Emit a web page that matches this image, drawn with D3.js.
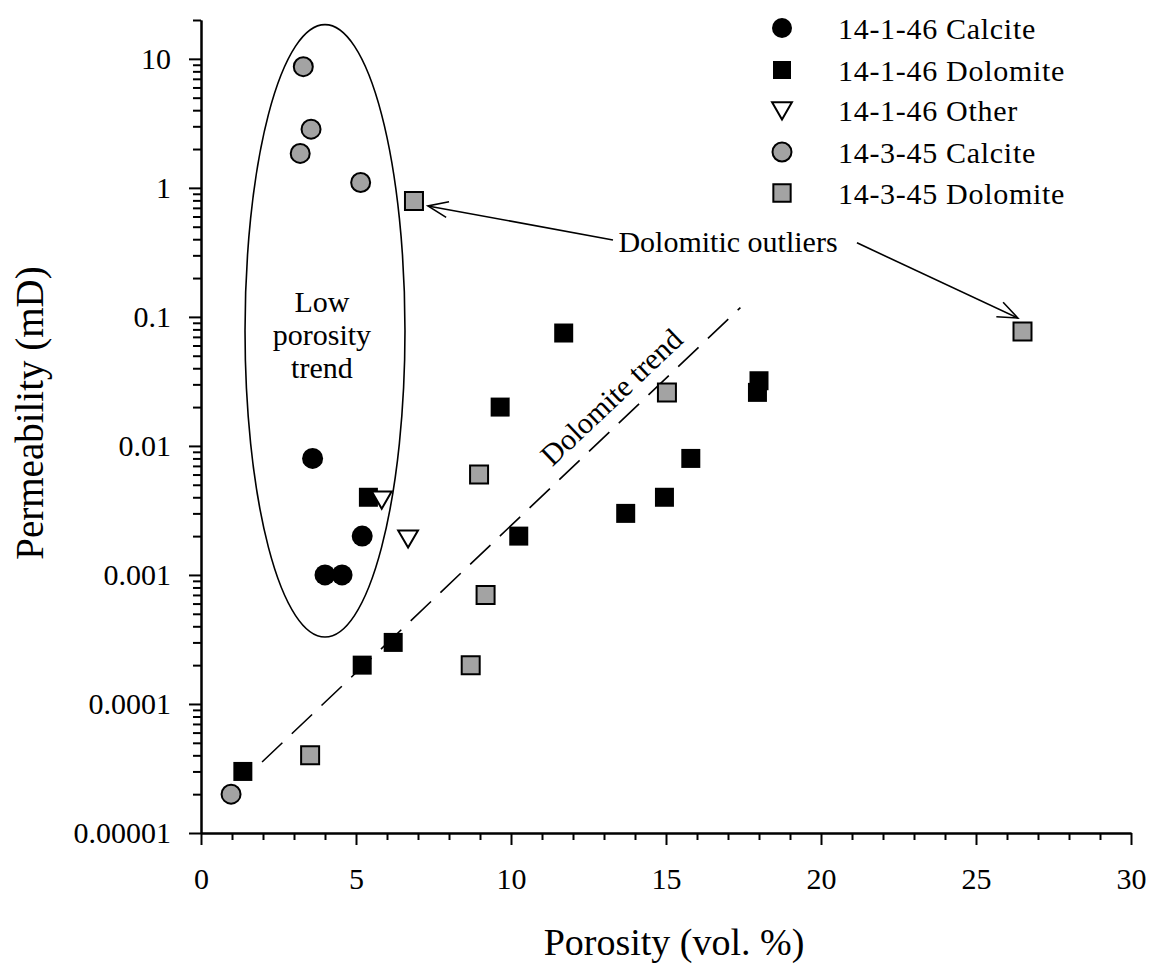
<!doctype html>
<html>
<head>
    <style>
        body { margin: 0; background: #fff; }
        text { font-family: "Liberation Serif", "Times New Roman", serif; fill: #000; }
        .axis path, .axis line { stroke: #000; stroke-width: 2px; }
        .axis text { font-family: "Liberation Serif", "Times New Roman", serif; font-size: 30px; }
    </style>
    <script src="https://d3js.org/d3.v7.min.js"></script>
</head>
<body>
<svg width="1150" height="968"></svg>
<script>

    // porosity (vol. %) and permeability (mD) per series
    var calcite1X = [3.6, 5.2, 4.0, 4.55],
        calcite1Y = [0.008, 0.002, 0.001, 0.001];
    var dolomite1X = [1.35, 5.2, 6.2, 5.4, 10.25, 9.65, 11.7, 13.7, 14.95, 15.8, 17.95, 18.0],
        dolomite1Y = [0.00003, 0.0002, 0.0003, 0.004, 0.002, 0.02, 0.075, 0.003, 0.004, 0.008, 0.026, 0.032];
    var other1X = [5.83, 6.68],
        other1Y = [0.004, 0.002];
    var calcite3X = [3.3, 3.55, 3.2, 5.15, 0.97],
        calcite3Y = [8.7, 2.85, 1.85, 1.1, 0.00002];
    var dolomite3X = [6.87, 26.5, 3.52, 8.97, 9.18, 8.7, 15.03],
        dolomite3Y = [0.79, 0.077, 0.00004, 0.006, 0.0007, 0.0002, 0.026];

    var seriesNames = ["14-1-46 Calcite", "14-1-46 Dolomite", "14-1-46 Other", "14-3-45 Calcite", "14-3-45 Dolomite"];

    var xTicks = [0, 5, 10, 15, 20, 25, 30];
    var yTicks = [0.00001, 0.0001, 0.001, 0.01, 0.1, 1, 10];
    var yTickLabels = ["0.00001", "0.0001", "0.001", "0.01", "0.1", "1", "10"];

    // annotations, in data units
    var trendLine = [[1.97, 0.0000355], [17.4, 0.118]];
    var ellipseX = [1.42, 6.58], ellipseY = [0.00033, 18.4];
    var outlierArrows = [[[13.29, 0.395], [7.32, 0.724]], [[21.16, 0.375], [26.35, 0.098]]];

    var svg = d3.select("svg");

    var x = d3.scaleLinear().domain([0, 30]).range([201, 1131]),
        y = d3.scaleLog().domain([0.00001, 20]).range([833, 20]);

    // minor ticks
    var xMinor = d3.range(0, 31).filter(function(d) { return d % 5 !== 0; });
    var yMinor = [];
    yTicks.forEach(function(t) {
        for (var k = 2; k <= 9; k++) {
            if (t * k <= 20.0001) yMinor.push(t * k);
        }
    });

    svg.append("g").attr("class", "axis")
       .attr("transform", "translate(0,833)")
       .call(d3.axisBottom(x).tickValues(xMinor).tickSize(7).tickSizeOuter(0).tickFormat(""));
    svg.append("g").attr("class", "axis")
       .attr("transform", "translate(0,833)")
       .call(d3.axisBottom(x).tickValues(xTicks).tickSize(12).tickSizeOuter(0).tickPadding(23).tickFormat(d3.format("d")));

    svg.append("g").attr("class", "axis")
       .attr("transform", "translate(201,0)")
       .call(d3.axisLeft(y).tickValues(yMinor).tickSize(8).tickSizeOuter(0).tickFormat(""));
    svg.append("g").attr("class", "axis")
       .attr("transform", "translate(201,0)")
       .call(d3.axisLeft(y).tickValues(yTicks).tickSize(12).tickSizeOuter(0).tickPadding(18)
            .tickFormat(function(d, i) { return yTickLabels[i]; }));

    svg.selectAll(".axis text").attr("fill", "#000");

    // axis titles
    svg.append("text")
       .attr("x", 674).attr("y", 955)
       .attr("text-anchor", "middle")
       .attr("font-size", "38px")
       .text("Porosity (vol. %)");

    svg.append("text")
       .attr("transform", "translate(43,413) rotate(-90)")
       .attr("text-anchor", "middle")
       .attr("font-size", "39px")
       .text("Permeability (mD)");

    // low porosity ellipse
    var ex0 = x(ellipseX[0]), ex1 = x(ellipseX[1]),
        ey0 = y(ellipseY[0]), ey1 = y(ellipseY[1]);
    svg.append("ellipse")
       .attr("cx", (ex0 + ex1) / 2).attr("cy", (ey0 + ey1) / 2)
       .attr("rx", (ex1 - ex0) / 2).attr("ry", (ey0 - ey1) / 2)
       .attr("fill", "none").attr("stroke", "#000").attr("stroke-width", 1.6);

    var lowText = svg.append("text")
       .attr("text-anchor", "middle")
       .attr("font-size", "30px");
    ["Low", "porosity", "trend"].forEach(function(s, i) {
        lowText.append("tspan")
           .attr("x", x(3.9)).attr("y", y(0.109) + i * 33)
           .text(s);
    });

    // dolomite trend
    svg.append("line")
       .attr("x1", x(trendLine[0][0])).attr("y1", y(trendLine[0][1]))
       .attr("x2", x(trendLine[1][0])).attr("y2", y(trendLine[1][1]))
       .attr("stroke", "#000").attr("stroke-width", 1.6)
       .attr("stroke-dasharray", "28,13");

    var ang = Math.atan2(y(trendLine[1][1]) - y(trendLine[0][1]), x(trendLine[1][0]) - x(trendLine[0][0])) * 180 / Math.PI;
    svg.append("text")
       .attr("transform", "translate(" + x(13.23) + "," + y(0.024) + ") rotate(" + ang + ")")
       .attr("text-anchor", "middle")
       .attr("dy", "0.35em")
       .attr("font-size", "30px")
       .text("Dolomite trend");

    // outlier arrows
    svg.append("defs").append("marker")
       .attr("id", "head")
       .attr("markerUnits", "userSpaceOnUse")
       .attr("markerWidth", 30).attr("markerHeight", 30)
       .attr("refX", 22).attr("refY", 10)
       .attr("orient", "auto")
       .append("path")
       .attr("d", "M2,2 L22,10 L2,18")
       .attr("fill", "none").attr("stroke", "#000").attr("stroke-width", 1.6);

    outlierArrows.forEach(function(a) {
        svg.append("line")
           .attr("x1", x(a[0][0])).attr("y1", y(a[0][1]))
           .attr("x2", x(a[1][0])).attr("y2", y(a[1][1]))
           .attr("stroke", "#000").attr("stroke-width", 1.6)
           .attr("marker-end", "url(#head)");
    });

    svg.append("text")
       .attr("x", x(17.0)).attr("y", y(0.319))
       .attr("text-anchor", "middle")
       .attr("font-size", "30px")
       .text("Dolomitic outliers");

    // points
    function pts(xs, ys) { return xs.map(function(d, i) { return [d, ys[i]]; }); }

    var square = d3.symbol().type(d3.symbolSquare).size(361),
        tri = d3.symbol().type(d3.symbolTriangle).size(170);

    svg.append("g").selectAll("circle")
       .data(pts(calcite3X, calcite3Y)).enter().append("circle")
       .attr("cx", function(d) { return x(d[0]); })
       .attr("cy", function(d) { return y(d[1]); })
       .attr("r", 9.5)
       .attr("fill", "#a3a3a3").attr("stroke", "#000").attr("stroke-width", 2);

    svg.append("g").selectAll("path")
       .data(pts(dolomite3X, dolomite3Y)).enter().append("path")
       .attr("d", d3.symbol().type(d3.symbolSquare).size(324))
       .attr("transform", function(d) { return "translate(" + x(d[0]) + "," + y(d[1]) + ")"; })
       .attr("fill", "#a3a3a3").attr("stroke", "#000").attr("stroke-width", 2);

    svg.append("g").selectAll("path")
       .data(pts(dolomite1X, dolomite1Y)).enter().append("path")
       .attr("d", square)
       .attr("transform", function(d) { return "translate(" + x(d[0]) + "," + y(d[1]) + ")"; })
       .attr("fill", "#000");

    svg.append("g").selectAll("circle")
       .data(pts(calcite1X, calcite1Y)).enter().append("circle")
       .attr("cx", function(d) { return x(d[0]); })
       .attr("cy", function(d) { return y(d[1]); })
       .attr("r", 10.5)
       .attr("fill", "#000");

    svg.append("g").selectAll("path")
       .data(pts(other1X, other1Y)).enter().append("path")
       .attr("d", tri)
       .attr("transform", function(d) { return "translate(" + x(d[0]) + "," + y(d[1]) + ") rotate(180)"; })
       .attr("fill", "#fff").attr("stroke", "#000").attr("stroke-width", 2);

    // legend
    var legend = svg.append("g");
    var rowY = [28, 70, 110, 152, 193];
    seriesNames.forEach(function(name, i) {
        var g = legend.append("g").attr("transform", "translate(782," + rowY[i] + ")");
        if (i === 0) g.append("circle").attr("r", 10).attr("fill", "#000");
        if (i === 1) g.append("path").attr("d", d3.symbol().type(d3.symbolSquare).size(324)).attr("fill", "#000");
        if (i === 2) g.append("path").attr("d", tri).attr("transform", "translate(0,-2) rotate(180)")
                      .attr("fill", "#fff").attr("stroke", "#000").attr("stroke-width", 2);
        if (i === 3) g.append("circle").attr("r", 9.5).attr("fill", "#a3a3a3").attr("stroke", "#000").attr("stroke-width", 2);
        if (i === 4) g.append("path").attr("d", d3.symbol().type(d3.symbolSquare).size(300))
                      .attr("fill", "#a3a3a3").attr("stroke", "#000").attr("stroke-width", 2);
        g.append("text").attr("x", 56).attr("dy", "0.35em")
         .attr("font-size", "30px").attr("letter-spacing", "0.7px").text(name);
    });

</script>
</body>
</html>
